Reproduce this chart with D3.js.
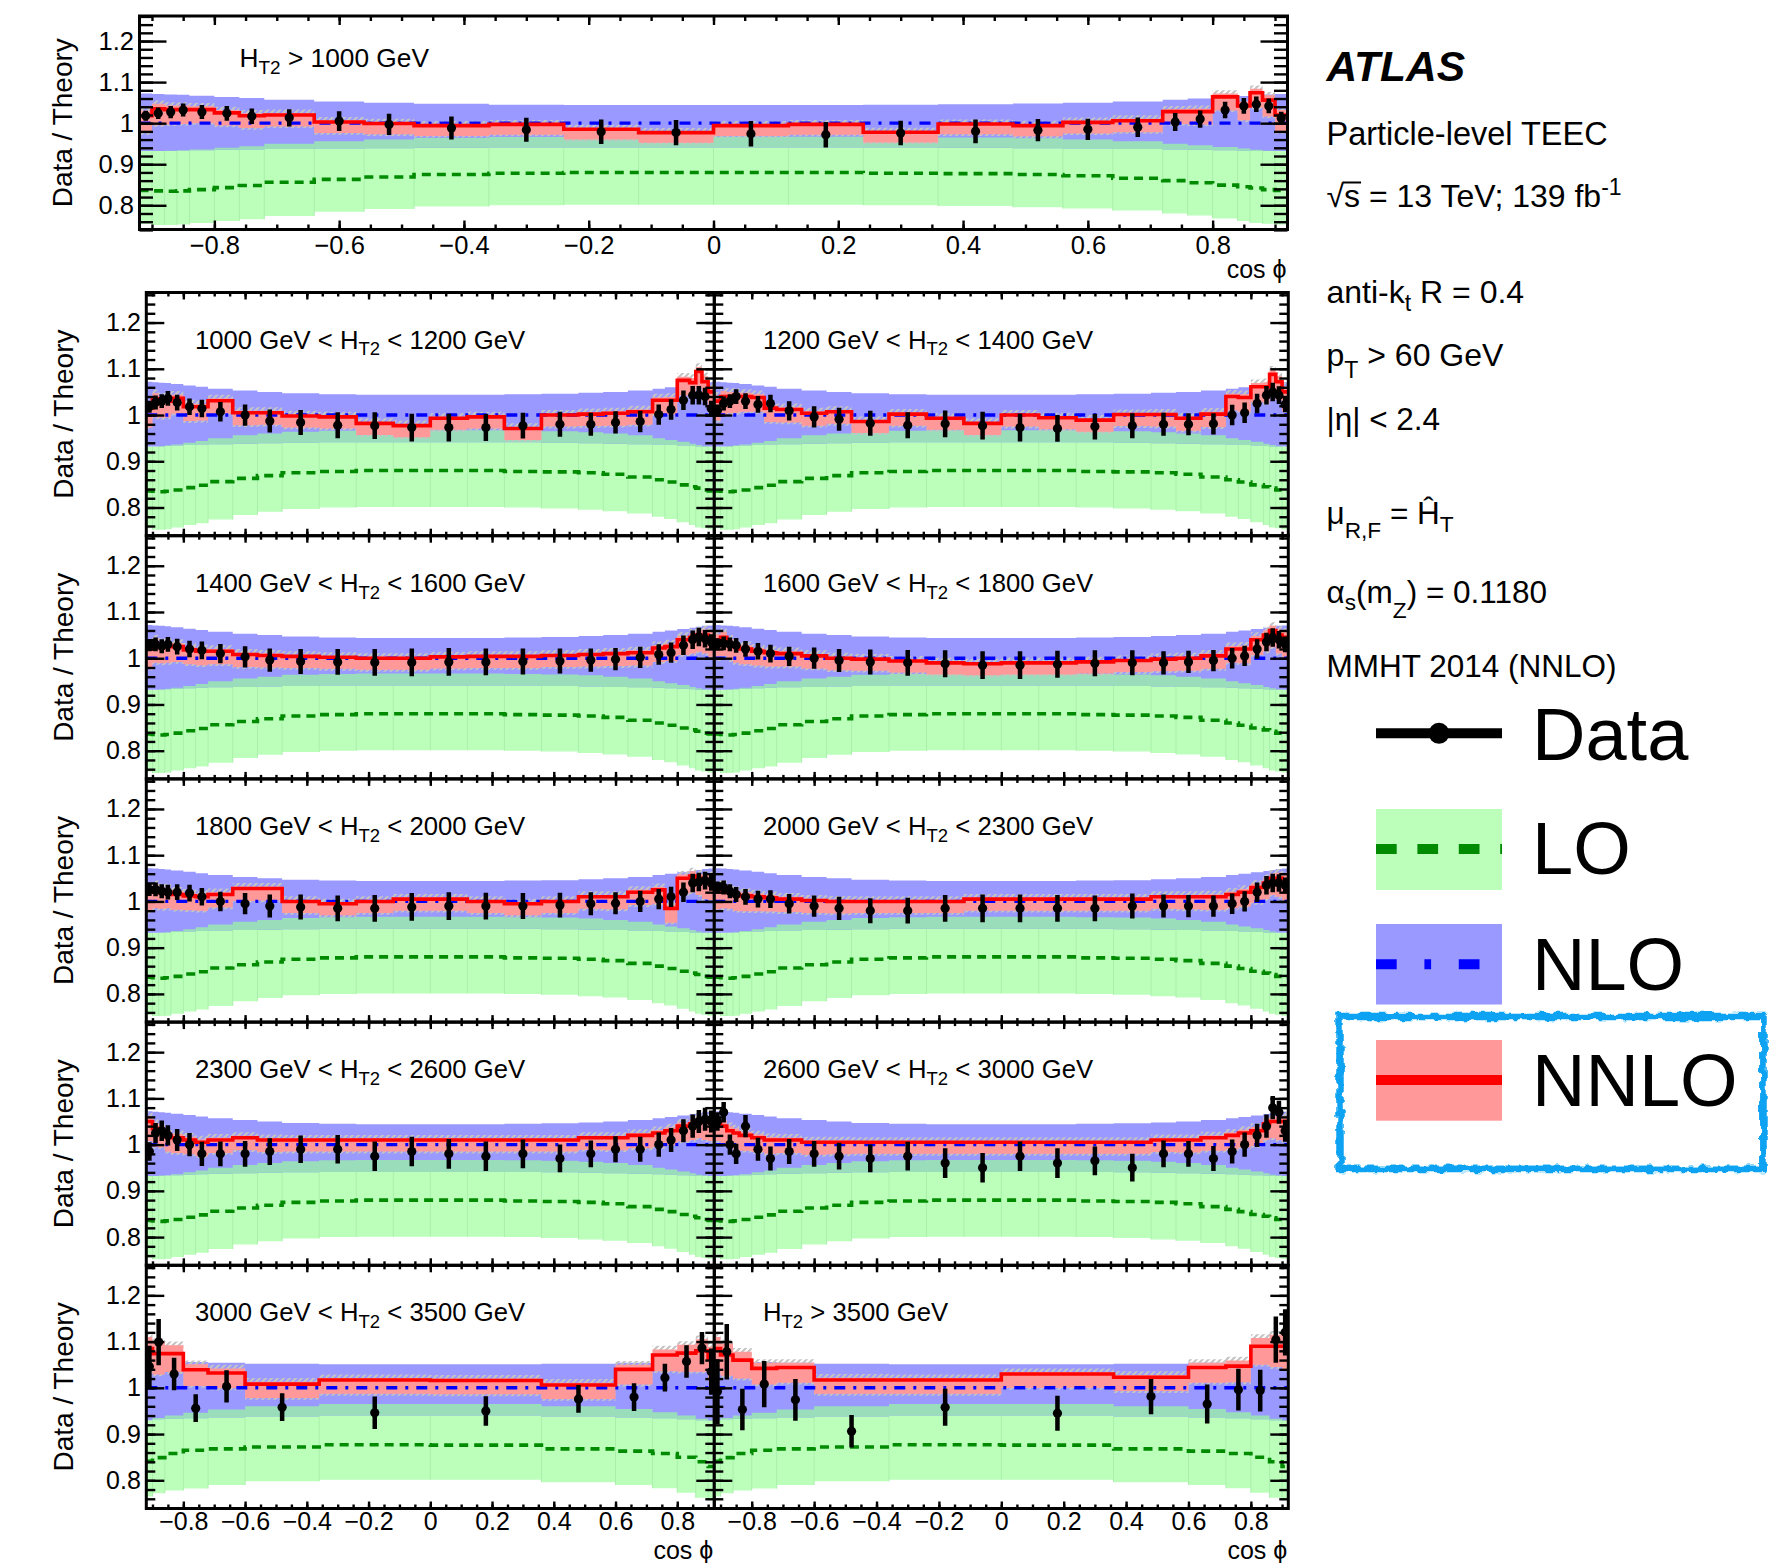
<!DOCTYPE html>
<html>
<head>
<meta charset="utf-8">
<script src="https://cdn.jsdelivr.net/npm/d3@7"></script>
<style>
  html, body { margin: 0; padding: 0; background: #fff; }
  svg { display: block; font-family: "Liberation Sans", Arial, Helvetica, sans-serif; }
</style>
</head>
<body>
<svg id="chart" width="1792" height="1563"></svg>
<script>
// ---------------- binning ----------------
const edgesFine = [-0.92,-0.90,-0.88,-0.86,-0.84,-0.80,-0.76,-0.72,-0.64,-0.56,-0.48,-0.36,-0.24,-0.12,0,
                   0.12,0.24,0.36,0.48,0.56,0.64,0.72,0.76,0.80,0.84,0.86,0.88,0.90,0.92];
const edgesCoarse = [-0.92,-0.90,-0.86,-0.80,-0.72,-0.60,-0.36,0,0.36,0.60,0.72,0.80,0.86,0.90,0.92];

// ---------------- tick labels ----------------
const yMajorTicks = [0.8, 0.9, 1.0, 1.1, 1.2];
const xMajorTicks = [-0.8, -0.6, -0.4, -0.2, 0, 0.2, 0.4, 0.6, 0.8];

// ---------------- theory bands (ratio to NLO) ----------------
// fine binning
const loFine      = [0.836,0.835,0.834,0.835,0.838,0.843,0.848,0.856,0.863,0.869,0.875,0.878,0.880,0.880,
                     0.880,0.880,0.878,0.877,0.875,0.872,0.866,0.860,0.855,0.849,0.845,0.842,0.838,0.836];
const loLowFine   = [0.755,0.752,0.752,0.753,0.757,0.762,0.766,0.774,0.784,0.791,0.797,0.800,0.801,0.801,
                     0.801,0.801,0.800,0.798,0.795,0.792,0.787,0.780,0.775,0.768,0.762,0.757,0.755,0.753];
const loHighFine  = [0.932,0.932,0.933,0.934,0.936,0.940,0.944,0.950,0.956,0.960,0.964,0.966,0.967,0.967,
                     0.967,0.967,0.966,0.965,0.963,0.960,0.956,0.950,0.946,0.942,0.938,0.935,0.933,0.932];
const nloLowFine  = [0.932,0.932,0.932,0.933,0.934,0.935,0.936,0.937,0.938,0.939,0.940,0.941,0.941,0.941,
                     0.941,0.941,0.941,0.940,0.939,0.938,0.937,0.936,0.935,0.934,0.933,0.932,0.932,0.932];
const nloHighFine = [1.072,1.071,1.070,1.069,1.067,1.064,1.061,1.057,1.053,1.050,1.047,1.045,1.044,1.044,
                     1.044,1.044,1.045,1.046,1.048,1.050,1.053,1.057,1.060,1.063,1.066,1.068,1.070,1.071];
const nnloUpFine  = [0.012,0.012,0.010,0.010,0.008,0.007,0.006,0.005,0.004,0.004,0.003,0.003,0.003,0.003,
                     0.003,0.003,0.003,0.003,0.004,0.004,0.005,0.006,0.007,0.008,0.010,0.010,0.012,0.012];
const nnloDnFine  = [0.042,0.040,0.036,0.035,0.033,0.031,0.030,0.028,0.027,0.026,0.025,0.025,0.025,0.025,
                     0.025,0.025,0.025,0.025,0.026,0.027,0.028,0.030,0.031,0.033,0.035,0.036,0.040,0.042];
// coarse binning
const loCoarse      = [0.841,0.849,0.858,0.865,0.868,0.872,0.877,0.876,0.868,0.863,0.858,0.850,0.840,0.830];
const loLowCoarse   = [0.765,0.772,0.778,0.782,0.790,0.798,0.801,0.801,0.796,0.790,0.783,0.773,0.762,0.757];
const loHighCoarse  = [0.930,0.935,0.940,0.946,0.953,0.960,0.965,0.965,0.960,0.954,0.947,0.940,0.933,0.930];
const nloLowCoarse  = [0.930,0.932,0.933,0.934,0.936,0.938,0.940,0.940,0.938,0.936,0.934,0.932,0.930,0.928];
const nloHighCoarse = [1.063,1.061,1.058,1.056,1.054,1.052,1.051,1.051,1.052,1.054,1.056,1.058,1.061,1.063];
const nnloUpCoarse  = [0.025,0.025,0.018,0.012,0.010,0.005,0.004,0.004,0.005,0.010,0.012,0.018,0.025,0.025];
const nnloDnCoarse  = [0.050,0.045,0.040,0.035,0.033,0.030,0.030,0.030,0.030,0.033,0.035,0.040,0.045,0.050];

// ---------------- measurements and NNLO per H_T2 slice ----------------
const dataIncl = [1.018,1.024,1.027,1.032,1.027,1.024,1.017,1.013,1.005,0.997,0.988,0.984,0.979,0.977,
                  0.974,0.972,0.976,0.980,0.983,0.985,0.990,1.003,1.010,1.032,1.042,1.046,1.042,1.012];
const errIncl  = [0.012,0.014,0.015,0.016,0.017,0.018,0.019,0.021,0.024,0.026,0.028,0.029,0.030,0.031,
                  0.031,0.031,0.030,0.029,0.027,0.026,0.024,0.022,0.021,0.020,0.019,0.019,0.018,0.016];
const nnloIncl = [1.018,1.035,1.033,1.033,1.033,1.025,1.018,1.020,1.003,0.999,0.994,0.997,0.985,0.977,
                  0.994,0.997,0.978,0.998,0.994,1.002,1.006,1.028,1.028,1.064,1.042,1.074,1.056,1.020];

const errFine   = [0.013,0.015,0.015,0.016,0.017,0.018,0.019,0.021,0.023,0.025,0.027,0.028,0.029,0.030,
                   0.030,0.029,0.028,0.027,0.025,0.024,0.023,0.022,0.022,0.021,0.020,0.020,0.019,0.017];
const errFineHi = [0.020,0.022,0.022,0.022,0.024,0.025,0.026,0.027,0.028,0.029,0.030,0.031,0.032,0.032,
                   0.032,0.032,0.031,0.030,0.029,0.028,0.027,0.026,0.026,0.025,0.025,0.025,0.025,0.024];

const data1000 = [1.018,1.027,1.030,1.036,1.027,1.018,1.014,1.007,1.000,0.987,0.984,0.978,0.977,0.973,
                  0.973,0.973,0.977,0.980,0.980,0.984,0.986,1.001,1.012,1.032,1.043,1.043,1.040,1.014];
const nnlo1000 = [1.015,1.035,1.030,1.030,1.036,1.018,1.018,1.031,1.005,1.005,0.998,0.996,0.982,0.977,
                  0.993,0.996,0.971,1.000,1.002,1.004,1.007,1.032,1.032,1.075,1.070,1.094,1.072,1.050];
const data1200 = [1.010,1.025,1.030,1.040,1.030,1.023,1.025,1.009,0.996,0.991,0.982,0.978,0.981,0.977,
                  0.973,0.971,0.975,0.977,0.980,0.980,0.981,1.000,1.005,1.025,1.043,1.050,1.043,1.023];
const nnlo1200 = [1.030,1.040,1.040,1.040,1.040,1.038,1.015,1.012,1.004,1.007,0.986,1.002,0.993,0.982,
                  1.000,0.994,0.989,1.001,1.001,0.993,1.002,1.040,1.038,1.061,1.061,1.088,1.072,1.050];
const data1400 = [1.028,1.030,1.026,1.030,1.025,1.020,1.017,1.010,1.003,0.996,0.993,0.992,0.991,0.991,
                  0.992,0.992,0.993,0.994,0.996,0.998,1.002,1.008,1.012,1.028,1.040,1.046,1.042,1.035];
const nnlo1400 = [1.020,1.030,1.025,1.025,1.025,1.018,1.015,1.015,1.008,1.006,1.004,1.002,1.000,1.000,
                  1.003,1.004,1.004,1.006,1.008,1.010,1.012,1.022,1.025,1.040,1.045,1.050,1.050,1.045];
const data1600 = [1.030,1.032,1.030,1.028,1.020,1.015,1.010,1.004,1.000,0.995,0.992,0.990,0.988,0.985,
                  0.985,0.987,0.989,0.990,0.990,0.992,0.995,1.000,1.005,1.020,1.035,1.045,1.040,1.030];
const nnlo1600 = [1.040,1.045,1.032,1.025,1.020,1.015,1.012,1.010,1.005,1.000,0.998,0.994,0.990,0.988,
                  0.990,0.990,0.992,0.995,0.998,1.000,1.005,1.020,1.020,1.040,1.050,1.060,1.050,1.045];
const data1800 = [1.025,1.026,1.022,1.020,1.020,1.018,1.010,1.000,0.995,0.990,0.988,0.985,0.985,0.988,
                  0.990,0.990,0.990,0.992,0.995,0.996,1.000,1.005,1.010,1.020,1.040,1.042,1.045,1.040];
const nnlo1800 = [1.020,1.025,1.020,1.020,1.015,1.012,1.010,1.015,1.028,1.028,1.000,0.995,1.000,1.005,
                  1.005,1.000,0.995,1.000,1.010,1.010,1.020,1.025,0.985,1.050,1.055,1.050,1.045,1.045];
const data2000 = [1.030,1.030,1.022,1.015,1.010,1.005,1.005,0.995,0.990,0.985,0.980,0.980,0.985,0.985,
                  0.985,0.985,0.985,0.990,0.990,0.990,0.990,0.995,1.000,1.020,1.035,1.040,1.040,1.035];
const nnlo2000 = [1.025,1.025,1.020,1.015,1.012,1.010,1.008,1.005,1.002,1.000,1.000,1.000,1.000,1.005,
                  1.005,1.005,1.005,1.005,1.010,1.010,1.010,1.015,1.020,1.030,1.040,1.050,1.050,1.045];
const data2300 = [0.985,1.025,1.030,1.020,1.010,1.000,0.980,0.980,0.980,0.985,0.990,0.990,0.975,0.985,
                  0.980,0.975,0.980,0.970,0.980,0.990,0.990,1.000,1.010,1.030,1.040,1.050,1.055,1.050];
const nnlo2300 = [1.050,1.035,1.030,1.020,1.015,1.010,1.005,1.010,1.015,1.010,1.010,1.010,1.010,1.010,
                  1.010,1.010,1.010,1.010,1.015,1.015,1.020,1.025,1.030,1.040,1.045,1.050,1.050,1.050];
const data2600 = [1.050,1.070,1.000,0.980,1.040,0.990,0.970,0.985,0.980,0.975,0.970,0.975,0.960,0.950,
                  0.975,0.960,0.965,0.950,0.980,0.980,0.970,0.985,1.000,1.020,1.040,1.080,1.070,1.030];
const nnlo2600 = [1.050,1.040,1.030,1.025,1.020,1.015,1.010,1.010,1.005,1.005,1.005,1.005,1.005,1.005,
                  1.005,1.005,1.005,1.005,1.010,1.010,1.015,1.020,1.025,1.030,1.045,1.050,1.050,1.050];
const data3000 = [1.046,1.099,1.030,0.956,1.003,0.958,0.946,0.950,0.976,0.980,1.022,1.057,1.086,1.035];
const err3000  = [0.045,0.050,0.035,0.030,0.035,0.030,0.035,0.032,0.030,0.030,0.030,0.035,0.035,0.050];
const nnlo3000 = [1.085,1.074,1.074,1.039,1.032,1.008,1.017,1.016,1.006,1.040,1.071,1.075,1.080,1.064];
const data3500 = [0.992,1.078,0.953,1.008,0.974,0.906,0.958,0.945,0.981,0.965,0.996,0.994,1.104,1.120];
const err3500  = [0.070,0.060,0.045,0.050,0.045,0.035,0.040,0.038,0.038,0.042,0.045,0.045,0.050,0.050];
const nnlo3500 = [1.085,1.071,1.060,1.042,1.044,1.017,1.017,1.030,1.023,1.044,1.047,1.090,1.090,1.090];

// ---------------- assemble ----------------
const theoryFine = { lo: loFine, loLow: loLowFine, loHigh: loHighFine, nloLow: nloLowFine,
                     nloHigh: nloHighFine, up: nnloUpFine, dn: nnloDnFine };
const theoryCoarse = { lo: loCoarse, loLow: loLowCoarse, loHigh: loHighCoarse, nloLow: nloLowCoarse,
                       nloHigh: nloHighCoarse, up: nnloUpCoarse, dn: nnloDnCoarse };

const inclusive = { title: [["H"], ["T2", "sub"], [" > 1000 GeV"]], edges: edgesFine, th: theoryFine,
                    data: dataIncl, err: errIncl, nnlo: nnloIncl };
const slices = [
  { title: [["1000 GeV < H"], ["T2","sub"], [" < 1200 GeV"]], edges: edgesFine, th: theoryFine, data: data1000, err: errFine, nnlo: nnlo1000 },
  { title: [["1200 GeV < H"], ["T2","sub"], [" < 1400 GeV"]], edges: edgesFine, th: theoryFine, data: data1200, err: errFine, nnlo: nnlo1200 },
  { title: [["1400 GeV < H"], ["T2","sub"], [" < 1600 GeV"]], edges: edgesFine, th: theoryFine, data: data1400, err: errFine, nnlo: nnlo1400 },
  { title: [["1600 GeV < H"], ["T2","sub"], [" < 1800 GeV"]], edges: edgesFine, th: theoryFine, data: data1600, err: errFine, nnlo: nnlo1600 },
  { title: [["1800 GeV < H"], ["T2","sub"], [" < 2000 GeV"]], edges: edgesFine, th: theoryFine, data: data1800, err: errFine, nnlo: nnlo1800 },
  { title: [["2000 GeV < H"], ["T2","sub"], [" < 2300 GeV"]], edges: edgesFine, th: theoryFine, data: data2000, err: errFine, nnlo: nnlo2000 },
  { title: [["2300 GeV < H"], ["T2","sub"], [" < 2600 GeV"]], edges: edgesFine, th: theoryFine, data: data2300, err: errFineHi, nnlo: nnlo2300 },
  { title: [["2600 GeV < H"], ["T2","sub"], [" < 3000 GeV"]], edges: edgesFine, th: theoryFine, data: data2600, err: errFineHi, nnlo: nnlo2600 },
  { title: [["3000 GeV < H"], ["T2","sub"], [" < 3500 GeV"]], edges: edgesCoarse, th: theoryCoarse, data: data3000, err: err3000, nnlo: nnlo3000 },
  { title: [["H"], ["T2","sub"], [" > 3500 GeV"]], edges: edgesCoarse, th: theoryCoarse, data: data3500, err: err3500, nnlo: nnlo3500 }
];

// ---------------- layout ----------------
const xDomain = [-0.92, 0.92];
const topBox = { x0: 139.5, x1: 1287.5, y0: 16, y1: 229.5 };
const colX = [146.3, 714.3, 1288.3];
const rowY = [292.5, 535.7, 778.9, 1022.1, 1265.3, 1508.5];
const topStyle  = { yDom: [0.741, 1.261], yMaj: 27, yMin: 13.5, xMaj: 9, xMin: 5, tickFont: 25.5,
                    titleFont: 26.3, titleDX: 100, titleDY: 50.5, yTitleX: 71.5, xPad: 6, xTitleDY: 48.5 };
const gridStyle = { yDom: [0.739, 1.265], yMaj: 18, yMin: 9, xMaj: 7, xMin: 4, tickFont: 25,
                    titleFont: 25.7, titleDX: 48.7, titleDY: 56, yTitleX: 73, xPad: 3.5, xTitleDY: 50.5 };

const C = { lo: "#bbffbb", loLine: "#008a00", nlo: "#9999ff", nloLine: "#0000ff", overlap: "#99ddbb",
            nnlo: "#ff9999", nnloLine: "#ff0000", hatch: "#c4c4c4" };

const svg = d3.select("#chart");
const defs = svg.append("defs");
const pat = defs.append("pattern").attr("id", "hatch").attr("patternUnits", "userSpaceOnUse")
  .attr("width", 6).attr("height", 6);
pat.append("path").attr("d", "M-1,1 L1,-1 M0,6 L6,0 M5,7 L7,5")
  .attr("stroke", C.hatch).attr("stroke-width", 2.2);

function richText(g, x, y, parts, size, extra) {
  const t = g.append("text").attr("x", x).attr("y", y).attr("font-size", size).attr("fill", "#000");
  let shift = 0;
  parts.forEach(([s, kind, off]) => {
    let target = 0, fs = size;
    if (kind === "sub") { target = off !== undefined ? off : size * 0.27; fs = size * 0.72; }
    if (kind === "sup") { target = -(off !== undefined ? off : size * 0.4); fs = size * 0.72; }
    t.append("tspan").attr("font-size", fs).attr("dy", target - shift).text(s);
    shift = target;
  });
  if (extra) extra(t);
  return t;
}

let clipCount = 0;
function drawPanel(p, box, st, opt) {
  const g = svg.append("g");
  const x = d3.scaleLinear().domain(xDomain).range([box.x0, box.x1]);
  const y = d3.scaleLinear().domain(st.yDom).range([box.y1, box.y0]);
  const cid = "clip" + (clipCount++);
  defs.append("clipPath").attr("id", cid).append("rect")
    .attr("x", box.x0).attr("y", box.y0).attr("width", box.x1 - box.x0).attr("height", box.y1 - box.y0);
  const body = g.append("g").attr("clip-path", `url(#${cid})`);

  const e = p.edges, n = e.length - 1, th = p.th;
  const steps = f => e.map((xv, i) => Object.assign({ x: xv }, f(Math.min(i, n - 1))));
  const area = d3.area().x(d => x(d.x)).y0(d => y(d.lo)).y1(d => y(d.hi)).curve(d3.curveStepAfter);
  const line = d3.line().x(d => x(d.x)).y(d => y(d.v)).curve(d3.curveStepAfter);

  // LO band with faint bin boundaries
  body.append("path").attr("d", area(steps(i => ({ lo: th.loLow[i], hi: th.loHigh[i] })))).attr("fill", C.lo);
  body.selectAll("line.binedge").data(d3.range(1, n)).join("line")
    .attr("x1", i => x(e[i])).attr("x2", i => x(e[i]))
    .attr("y1", i => y(Math.min(th.loLow[i - 1], th.loLow[i])))
    .attr("y2", i => y(Math.min(th.loHigh[i - 1], th.loHigh[i])))
    .attr("stroke", "#a9efa9").attr("stroke-width", 1);
  // NLO band and its overlap with LO
  body.append("path").attr("d", area(steps(i => ({ lo: th.nloLow[i], hi: th.nloHigh[i] })))).attr("fill", C.nlo);
  body.append("path").attr("d", area(steps(i => ({ lo: th.nloLow[i],
      hi: Math.max(th.nloLow[i], Math.min(th.loHigh[i], th.nloHigh[i])) })))).attr("fill", C.overlap);
  // NNLO band (hatched outline, then solid)
  body.append("path").attr("d", area(steps(i => ({ lo: p.nnlo[i] - th.dn[i] - 0.004, hi: p.nnlo[i] + th.up[i] + 0.008 }))))
    .attr("fill", "url(#hatch)");
  body.append("path").attr("d", area(steps(i => ({ lo: p.nnlo[i] - th.dn[i], hi: p.nnlo[i] + th.up[i] }))))
    .attr("fill", C.nnlo);
  // central predictions
  body.append("path").attr("d", line(steps(i => ({ v: th.lo[i] })))).attr("fill", "none")
    .attr("stroke", C.loLine).attr("stroke-width", 3.6).attr("stroke-dasharray", "9 6");
  body.append("line").attr("x1", x(xDomain[0])).attr("x2", x(xDomain[1])).attr("y1", y(1)).attr("y2", y(1))
    .attr("stroke", C.nloLine).attr("stroke-width", 3.4).attr("stroke-dasharray", "11 8 3 8");
  body.append("path").attr("d", line(steps(i => ({ v: p.nnlo[i] })))).attr("fill", "none")
    .attr("stroke", C.nnloLine).attr("stroke-width", 3.6);

  // data points
  const pts = p.data.map((v, i) => ({ c: (e[i] + e[i + 1]) / 2, v, err: p.err[i] }));
  const dg = body.append("g");
  dg.selectAll("line").data(pts).join("line")
    .attr("x1", d => x(d.c)).attr("x2", d => x(d.c))
    .attr("y1", d => y(d.v - d.err)).attr("y2", d => y(d.v + d.err))
    .attr("stroke", "#000").attr("stroke-width", 4.5);
  dg.selectAll("circle").data(pts).join("circle")
    .attr("cx", d => x(d.c)).attr("cy", d => y(d.v)).attr("r", 4.6).attr("fill", "#000");

  // ticks on all four sides, pointing inward
  const yMinor = d3.range(0.74, 1.2601, 0.02);
  const xMinor = d3.range(-0.9, 0.9001, 0.05);
  const tg = g.append("g").attr("class", "ticks");
  const addTicks = (axis, tx, ty, vals, len) => {
    const a = tg.append("g").attr("transform", `translate(${tx},${ty})`)
      .call(axis.tickValues(vals).tickSize(-len).tickFormat(""));
    a.select(".domain").remove();
    a.selectAll(".tick line").attr("stroke", "#000").attr("stroke-width", 2.4);
  };
  addTicks(d3.axisLeft(y), box.x0, 0, yMinor, st.yMin);
  addTicks(d3.axisLeft(y), box.x0, 0, yMajorTicks, st.yMaj);
  addTicks(d3.axisRight(y), box.x1, 0, yMinor, st.yMin);
  addTicks(d3.axisRight(y), box.x1, 0, yMajorTicks, st.yMaj);
  addTicks(d3.axisBottom(x), 0, box.y1, xMinor, st.xMin);
  addTicks(d3.axisBottom(x), 0, box.y1, xMajorTicks, st.xMaj);
  addTicks(d3.axisTop(x), 0, box.y0, xMinor, st.xMin);
  addTicks(d3.axisTop(x), 0, box.y0, xMajorTicks, st.xMaj);

  // frame
  g.append("rect").attr("x", box.x0).attr("y", box.y0).attr("width", box.x1 - box.x0).attr("height", box.y1 - box.y0)
    .attr("fill", "none").attr("stroke", "#000").attr("stroke-width", 3);

  // tick labels and axis titles
  if (opt.yLabels) {
    const a = g.append("g").attr("transform", `translate(${box.x0},0)`)
      .call(d3.axisLeft(y).tickValues(yMajorTicks).tickSize(0).tickPadding(5.5).tickFormat(d3.format("~g")));
    a.select(".domain").remove();
    a.attr("font-size", st.tickFont).attr("font-family", null);
    a.selectAll("text").attr("fill", "#000");
    g.append("text").attr("transform", `translate(${st.yTitleX},${(box.y0 + box.y1) / 2}) rotate(-90)`)
      .attr("text-anchor", "middle").attr("font-size", 28).text("Data / Theory");
  }
  if (opt.xLabels) {
    const a = g.append("g").attr("transform", `translate(0,${box.y1})`)
      .call(d3.axisBottom(x).tickValues(xMajorTicks).tickSize(0).tickPadding(st.xPad).tickFormat(d3.format("~f")));
    a.select(".domain").remove();
    a.attr("font-size", st.tickFont).attr("font-family", null);
    a.selectAll("text").attr("fill", "#000");
    g.append("text").attr("x", box.x1 - 1).attr("y", box.y1 + st.xTitleDY).attr("text-anchor", "end")
      .attr("font-size", 25).text("cos \u03D5");
  }
  // slice title
  richText(g, box.x0 + st.titleDX, box.y0 + st.titleDY, p.title, st.titleFont);
}

// inclusive panel
drawPanel(inclusive, topBox, topStyle, { yLabels: true, xLabels: true });
// H_T2 slices, two per row
slices.forEach((p, k) => {
  const r = Math.floor(k / 2), c = k % 2;
  const box = { x0: colX[c], x1: colX[c + 1], y0: rowY[r], y1: rowY[r + 1] };
  drawPanel(p, box, gridStyle, { yLabels: c === 0, xLabels: r === 4 });
});

// ---------------- side annotations ----------------
const side = svg.append("g");
const tx = 1326.5, fs = 31.5;
side.append("text").attr("x", tx).attr("y", 81).attr("font-size", 42.5).attr("font-weight", "bold")
  .attr("font-style", "italic").text("ATLAS");
side.append("text").attr("x", tx).attr("y", 144.5).attr("font-size", 32.5).text("Particle-level TEEC");
richText(side, tx, 206.5, [["\u221As = 13 TeV; 139 fb"], ["-1", "sup", 12]], 32, t => {
  const ext = t.node().getExtentOfChar(1);
  side.append("line").attr("x1", ext.x - 1).attr("x2", ext.x + ext.width + 1)
    .attr("y1", 206.5 - 24).attr("y2", 206.5 - 24).attr("stroke", "#000").attr("stroke-width", 2);
});
richText(side, tx, 302.5, [["anti-k"], ["t", "sub", 8], [" R = 0.4"]], 32);
richText(side, tx, 366, [["p"], ["T", "sub", 12], [" > 60 GeV"]], 32);
side.append("text").attr("x", tx).attr("y", 430).attr("font-size", fs).text("|\u03B7| < 2.4");
richText(side, tx, 524, [["\u03BC"], ["R,F", "sub", 14], [" = \u0124"], ["T", "sub", 8]], fs);
richText(side, tx, 603, [["\u03B1"], ["s", "sub", 7], ["(m"], ["Z", "sub", 15], [") = 0.1180"]], fs);
side.append("text").attr("x", tx).attr("y", 677).attr("font-size", fs).text("MMHT 2014 (NNLO)");

// ---------------- legend ----------------
const leg = svg.append("g");
const lx0 = 1376, lx1 = 1502, ltx = 1532, lfs = 74;
leg.append("line").attr("x1", lx0).attr("x2", lx1).attr("y1", 733.3).attr("y2", 733.3)
  .attr("stroke", "#000").attr("stroke-width", 10);
leg.append("circle").attr("cx", (lx0 + lx1) / 2).attr("cy", 733.3).attr("r", 10.5).attr("fill", "#000");
leg.append("text").attr("x", ltx).attr("y", 760).attr("font-size", lfs).text("Data");

leg.append("rect").attr("x", lx0).attr("y", 809).attr("width", lx1 - lx0).attr("height", 81).attr("fill", C.lo);
leg.append("line").attr("x1", lx0).attr("x2", lx1).attr("y1", 849).attr("y2", 849)
  .attr("stroke", C.loLine).attr("stroke-width", 10).attr("stroke-dasharray", "20.7 20.7");
leg.append("text").attr("x", ltx).attr("y", 874).attr("font-size", lfs).text("LO");

leg.append("rect").attr("x", lx0).attr("y", 924).attr("width", lx1 - lx0).attr("height", 80.5).attr("fill", C.nlo);
leg.append("line").attr("x1", lx0).attr("x2", lx1).attr("y1", 964.3).attr("y2", 964.3)
  .attr("stroke", C.nloLine).attr("stroke-width", 10).attr("stroke-dasharray", "20.7 27.7 6.7 27.7");
leg.append("text").attr("x", ltx).attr("y", 990).attr("font-size", lfs).text("NLO");

leg.append("rect").attr("x", lx0).attr("y", 1040).attr("width", lx1 - lx0).attr("height", 80.7).attr("fill", C.nnlo);
leg.append("line").attr("x1", lx0).attr("x2", lx1).attr("y1", 1080).attr("y2", 1080)
  .attr("stroke", C.nnloLine).attr("stroke-width", 10);
leg.append("text").attr("x", ltx).attr("y", 1105.7).attr("font-size", lfs).text("NNLO");

// hand-drawn highlight around the NNLO entry
const rough = defs.append("filter").attr("id", "rough").attr("x", "-5%").attr("y", "-10%")
  .attr("width", "110%").attr("height", "120%");
rough.append("feTurbulence").attr("type", "fractalNoise").attr("baseFrequency", 0.11)
  .attr("numOctaves", 2).attr("seed", 4).attr("result", "noise");
rough.append("feDisplacementMap").attr("in", "SourceGraphic").attr("in2", "noise")
  .attr("scale", 8).attr("xChannelSelector", "R").attr("yChannelSelector", "G");
const hl = leg.append("g").attr("filter", "url(#rough)").attr("fill", "none").attr("stroke", "#0ea2f2");
hl.append("rect").attr("x", 1339.5).attr("y", 1016).attr("width", 424).attr("height", 153).attr("stroke-width", 6.5);
hl.append("rect").attr("x", 1342).attr("y", 1018.5).attr("width", 420).attr("height", 149).attr("stroke-width", 3.5);
</script>
</body>
</html>
